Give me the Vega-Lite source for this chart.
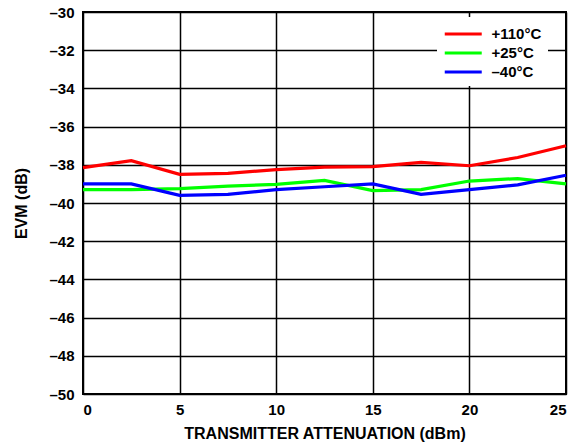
{
  "$schema": "https://vega.github.io/schema/vega-lite/v6.json",
  "autosize": "none",
  "width": 483,
  "height": 382,
  "padding": {"left": 83, "top": 12, "right": 16, "bottom": 52},
  "background": "white",
  "config": {
    "view": {"stroke": "black", "strokeWidth": 2},
    "font": "Liberation Sans"
  },
  "data": {
    "values": [
      {"x": 0, "t": "+110°C", "evm": -38.15},
      {"x": 2.5, "t": "+110°C", "evm": -37.78},
      {"x": 5, "t": "+110°C", "evm": -38.5},
      {"x": 7.5, "t": "+110°C", "evm": -38.45},
      {"x": 10, "t": "+110°C", "evm": -38.25},
      {"x": 12.5, "t": "+110°C", "evm": -38.12},
      {"x": 15, "t": "+110°C", "evm": -38.1},
      {"x": 17.5, "t": "+110°C", "evm": -37.87},
      {"x": 20, "t": "+110°C", "evm": -38.05},
      {"x": 22.5, "t": "+110°C", "evm": -37.62},
      {"x": 25, "t": "+110°C", "evm": -37.0},
      {"x": 0, "t": "+25°C", "evm": -39.3},
      {"x": 2.5, "t": "+25°C", "evm": -39.3},
      {"x": 5, "t": "+25°C", "evm": -39.25},
      {"x": 7.5, "t": "+25°C", "evm": -39.12},
      {"x": 10, "t": "+25°C", "evm": -39.02},
      {"x": 12.5, "t": "+25°C", "evm": -38.82},
      {"x": 15, "t": "+25°C", "evm": -39.35},
      {"x": 17.5, "t": "+25°C", "evm": -39.3},
      {"x": 20, "t": "+25°C", "evm": -38.85},
      {"x": 22.5, "t": "+25°C", "evm": -38.72},
      {"x": 25, "t": "+25°C", "evm": -39.0},
      {"x": 0, "t": "–40°C", "evm": -39.0},
      {"x": 2.5, "t": "–40°C", "evm": -39.0},
      {"x": 5, "t": "–40°C", "evm": -39.6},
      {"x": 7.5, "t": "–40°C", "evm": -39.55},
      {"x": 10, "t": "–40°C", "evm": -39.3},
      {"x": 12.5, "t": "–40°C", "evm": -39.15},
      {"x": 15, "t": "–40°C", "evm": -39.0},
      {"x": 17.5, "t": "–40°C", "evm": -39.55},
      {"x": 20, "t": "–40°C", "evm": -39.3},
      {"x": 22.5, "t": "–40°C", "evm": -39.05},
      {"x": 25, "t": "–40°C", "evm": -38.55}
    ]
  },
  "mark": {"type": "line", "strokeWidth": 3.2},
  "encoding": {
    "x": {
      "field": "x", "type": "quantitative",
      "scale": {"domain": [0, 25], "nice": false},
      "axis": {
        "values": [0, 5, 10, 15, 20, 25],
        "title": "TRANSMITTER ATTENUATION (dBm)",
        "titleFont": "Liberation Sans", "titleFontSize": 16, "titleFontWeight": "bold", "titleColor": "black",
        "titlePadding": 8,
        "labelFont": "Liberation Sans", "labelFontSize": 15, "labelFontWeight": "bold", "labelColor": "black",
        "labelPadding": 8,
        "ticks": false, "domain": false,
        "grid": true, "gridColor": "black", "gridOpacity": 1, "gridWidth": 1.5
      }
    },
    "y": {
      "field": "evm", "type": "quantitative",
      "scale": {"domain": [-50, -30], "nice": false},
      "axis": {
        "values": [-50, -48, -46, -44, -42, -40, -38, -36, -34, -32, -30],
        "labelExpr": "replace(datum.label, '−', '–')",
        "title": "EVM (dB)",
        "titleFont": "Liberation Sans", "titleFontSize": 16, "titleFontWeight": "bold", "titleColor": "black",
        "titlePadding": 19,
        "labelFont": "Liberation Sans", "labelFontSize": 15, "labelFontWeight": "bold", "labelColor": "black",
        "labelPadding": 9,
        "ticks": false, "domain": false,
        "grid": true, "gridColor": "black", "gridOpacity": 1, "gridWidth": 1.5
      }
    },
    "color": {
      "field": "t", "type": "nominal",
      "scale": {"domain": ["+110°C", "+25°C", "–40°C"], "range": ["#ff0000", "#00ff00", "#0000ff"]},
      "legend": {
        "title": null,
        "orient": "none",
        "legendX": 354,
        "legendY": 5,
        "padding": 6,
        "fillColor": "white",
        "symbolType": "M-1,0H3",
        "symbolSize": 342,
        "symbolStrokeWidth": 3.2,
        "labelFont": "Liberation Sans", "labelFontSize": 15, "labelFontWeight": "bold", "labelColor": "black",
        "labelOffset": 26.5,
        "rowPadding": -0.3
      }
    }
  }
}
